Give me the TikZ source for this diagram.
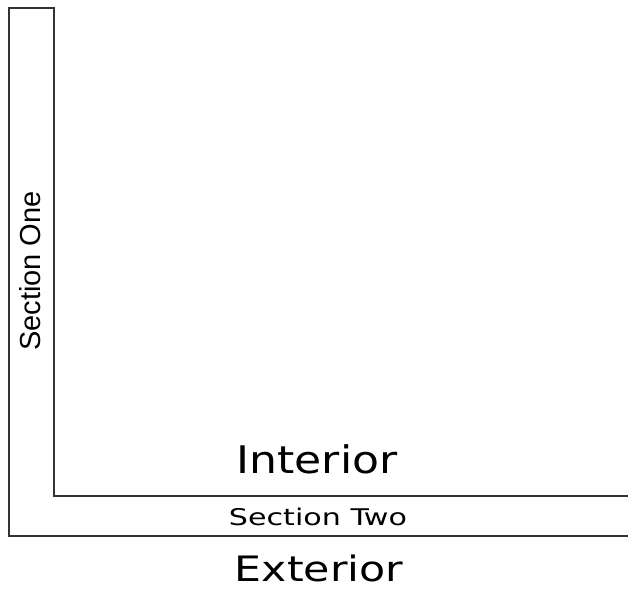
\documentclass[tikz,border=0pt]{standalone}
\usepackage{fontspec}
\setmainfont{Liberation Sans}
\newfontfamily\handfont{DejaVu Sans}
\usetikzlibrary{calc}
\tikzset{
    wall/.style = {draw=black!80, line width=1.6pt, line cap=rect},
    roomlabel/.style = {anchor=base, inner sep=0pt, transform shape,
        font=\handfont\fontsize{38}{40}\selectfont},
    seclabel/.style = {anchor=base, inner sep=0pt, transform shape}
}
\begin{document}
\begin{tikzpicture}[x=1pt, y=-1pt]
        \useasboundingbox (0,0) rectangle (628,590);
        % corners of the L
        \coordinate (otl) at (9,8);
        \coordinate (itl) at (54,8);
        \coordinate (obl) at (9,536);
        \coordinate (ibl) at (54,496);
        \coordinate (obr) at (628,536);
        \coordinate (ibr) at (628,496);
        \draw [wall] (itl) -- (otl) -- (obl) -- (obr);
        \draw [wall] (itl) -- (ibl) -- (ibr);
        % labels
        \node [seclabel, rotate=90, font=\fontsize{29}{31}\selectfont, name=secone] at (40,271) {Section One};
        \node [seclabel, xscale=1.31, font=\handfont\fontsize{23}{25}\selectfont, name=sectwo] at (318,525) {Section Two};
        \node [roomlabel, xscale=1.16, name=interior] at (317,473) {Interior};
        \node [roomlabel, xscale=1.22, font=\handfont\fontsize{35}{37}\selectfont, name=exterior] at (319,581) {Exterior};
\end{tikzpicture}
\end{document}
